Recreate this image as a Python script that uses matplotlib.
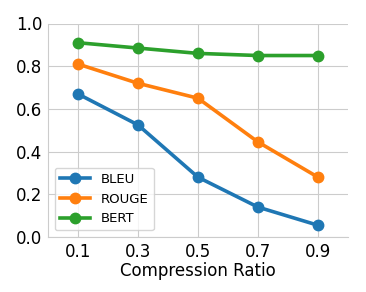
import matplotlib.pyplot as plt

ratios = [0.1, 0.3, 0.5, 0.7, 0.9]
bleu = [0.67, 0.525, 0.28, 0.14, 0.055]
rouge = [0.81, 0.72, 0.65, 0.445, 0.28]
bert = [0.91, 0.885, 0.86, 0.85, 0.85]

plt.rcParams['font.family'] = 'DejaVu Sans'

fig = plt.figure(figsize=(3.66, 2.92), dpi=100)
ax = fig.add_axes([48 / 366, 1 - 237 / 292, 300 / 366, 213.5 / 292])

ax.plot(ratios, bleu, 'o-', color='#1f77b4', lw=2.6, ms=7.5, label='BLEU')
ax.plot(ratios, rouge, 'o-', color='#ff7f0e', lw=2.6, ms=7.5, label='ROUGE')
ax.plot(ratios, bert, 'o-', color='#2ca02c', lw=2.6, ms=7.5, label='BERT')

ax.set_xlim(0, 1)
ax.set_ylim(0, 1)
ax.set_xticks(ratios)
ax.set_yticks([0, 0.2, 0.4, 0.6, 0.8, 1.0])
ax.tick_params(labelsize=12, length=0)
ax.tick_params(axis='x', pad=4)
ax.tick_params(axis='y', pad=4)
ax.set_xlabel('Compression Ratio', fontsize=12, labelpad=1)
ax.grid(True, color='#cccccc', lw=0.8)
ax.set_axisbelow(True)
for s in ['top', 'right']:
    ax.spines[s].set_visible(False)
for s in ['left', 'bottom']:
    ax.spines[s].set_color('#cccccc')

ax.legend(loc='lower left', fontsize=9.5, handlelength=2.3)

fig.savefig('out.png', dpi=100)
